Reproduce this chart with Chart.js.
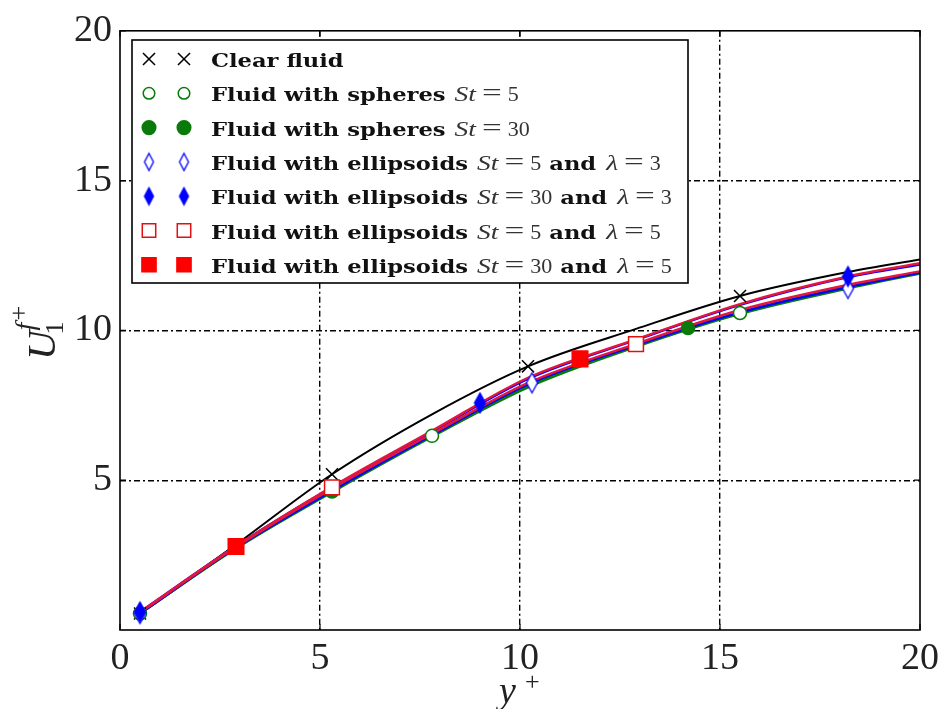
<!DOCTYPE html>
<html>
<head>
<meta charset="utf-8">
<script src="https://cdn.jsdelivr.net/npm/chart.js@4.4.0/dist/chart.umd.min.js"></script>
<style>
  html, body { margin: 0; padding: 0; background: #fff; }
  #wrap { width: 945px; height: 709px; }
</style>
</head>
<body>
<div id="wrap"><canvas id="uplus"></canvas></div>
<script>
// y+ positions where the mean velocity profiles are given
const yPlus = [0.5, 2.9, 5.3, 7.8, 10.2, 12.9, 15.5, 18.2, 20];

// U1f+ profiles
const clearFluid   = [0.55, 2.85, 5.2, 7.2, 8.8, 10.05, 11.15, 11.95, 12.37];
const spheresSt5   = [0.55, 2.72, 4.6, 6.45, 8.1, 9.45, 10.55, 11.4, 11.9];
const spheresSt30  = [0.55, 2.74, 4.63, 6.48, 8.15, 9.5, 10.6, 11.45, 11.93];
const ellSt5Lam3   = [0.55, 2.75, 4.65, 6.5, 8.2, 9.5, 10.6, 11.45, 11.93];
const ellSt30Lam3  = [0.6, 2.8, 4.76, 6.62, 8.38, 9.68, 10.85, 11.78, 12.2];
const ellSt5Lam5   = [0.58, 2.77, 4.72, 6.55, 8.25, 9.55, 10.68, 11.52, 11.97];
const ellSt30Lam5  = [0.6, 2.8, 4.78, 6.65, 8.42, 9.7, 10.88, 11.8, 12.24];

// marker positions (every few samples, like markevery)
const clearMarkX  = [0.5, 5.3, 10.2, 15.5];
const clearMarkY  = [0.55, 5.2, 8.8, 11.15];
const sph5MarkX   = [0.5, 7.8, 15.5];
const sph5MarkY   = [0.55, 6.48, 10.58];
const sph30MarkX  = [5.3, 14.2];
const sph30MarkY  = [4.62, 10.08];
const e5l3MarkX   = [0.5, 10.3, 18.2];
const e5l3MarkY   = [0.55, 8.25, 11.4];
const e30l3MarkX  = [0.5, 9.0, 18.2];
const e30l3MarkY  = [0.6, 7.58, 11.8];
const e5l5MarkX   = [5.3, 12.9];
const e5l5MarkY   = [4.76, 9.54];
const e30l5MarkX  = [2.9, 11.5];
const e30l5MarkY  = [2.79, 9.05];

const xTicks = [0, 5, 10, 15, 20];
const yTicks = [5, 10, 15, 20];

// legend labels: [text, kind] with b = bold words, i = math italic, r = math roman
const legendRows = [
  [["Clear fluid", "b"]],
  [["Fluid with spheres", "b"], ["St", "i"], ["=", "r"], ["5", "r"]],
  [["Fluid with spheres", "b"], ["St", "i"], ["=", "r"], ["30", "r"]],
  [["Fluid with ellipsoids", "b"], ["St", "i"], ["=", "r"], ["5", "r"], ["and", "b"], ["\u03bb", "i"], ["=", "r"], ["3", "r"]],
  [["Fluid with ellipsoids", "b"], ["St", "i"], ["=", "r"], ["30", "r"], ["and", "b"], ["\u03bb", "i"], ["=", "r"], ["3", "r"]],
  [["Fluid with ellipsoids", "b"], ["St", "i"], ["=", "r"], ["5", "r"], ["and", "b"], ["\u03bb", "i"], ["=", "r"], ["5", "r"]],
  [["Fluid with ellipsoids", "b"], ["St", "i"], ["=", "r"], ["30", "r"], ["and", "b"], ["\u03bb", "i"], ["=", "r"], ["5", "r"]]
];

function diamond(w, h, fill, stroke, lw) {
  const c = document.createElement('canvas');
  c.width = w + 2 * lw + 2;
  c.height = h + 2 * lw + 2;
  const g = c.getContext('2d');
  const cx = c.width / 2, cy = c.height / 2;
  g.beginPath();
  g.moveTo(cx, cy - h / 2);
  g.lineTo(cx + w / 2, cy);
  g.lineTo(cx, cy + h / 2);
  g.lineTo(cx - w / 2, cy);
  g.closePath();
  g.fillStyle = fill;
  g.fill();
  g.lineWidth = lw;
  g.strokeStyle = stroke;
  g.stroke();
  return c;
}

const GREEN = '#0a7a0a', BLUE = '#0000ff', RED = '#ff0000', CRIMSON = '#e3173e';

const series = [
  { curve: clearFluid,  mx: clearMarkX, my: clearMarkY, line: '#000', edge: '#000', fill: '#000', style: 'crossRot', r: 8.5, lr: 8.5 },
  { curve: spheresSt5,  mx: sph5MarkX,  my: sph5MarkY,  line: GREEN, edge: GREEN, fill: '#fff', style: 'circle', r: 6.5, lr: 5.8 },
  { curve: spheresSt30, mx: sph30MarkX, my: sph30MarkY, line: GREEN, edge: GREEN, fill: GREEN, style: 'circle', r: 6.5, lr: 6.8 },
  { curve: ellSt5Lam3,  mx: e5l3MarkX,  my: e5l3MarkY,  line: BLUE, edge: BLUE, fill: '#fff', style: diamond(11, 20, '#fff', BLUE, 1.3), leg: diamond(9, 17, '#fff', BLUE, 1.3) },
  { curve: ellSt30Lam3, mx: e30l3MarkX, my: e30l3MarkY, line: BLUE, edge: BLUE, fill: BLUE, style: diamond(11, 20, BLUE, BLUE, 1.3), leg: diamond(9, 17, BLUE, BLUE, 1.3) },
  { curve: ellSt5Lam5,  mx: e5l5MarkX,  my: e5l5MarkY,  line: CRIMSON, edge: '#e01010', fill: '#fff', style: 'rect', r: 10.5, lr: 9.5 },
  { curve: ellSt30Lam5, mx: e30l5MarkX, my: e30l5MarkY, line: CRIMSON, edge: RED, fill: RED, style: 'rect', r: 11, lr: 10 }
];

const datasets = [];
series.forEach((s, i) => {
  datasets.push({
    data: yPlus.map((x, k) => ({ x: x, y: s.curve[k] })),
    showLine: true,
    borderColor: s.line,
    borderWidth: i === 0 ? 2 : 2.4,
    pointRadius: 0,
    cubicInterpolationMode: 'monotone',
    order: 40 - i
  });
});
series.forEach((s, i) => {
  datasets.push({
    data: s.mx.map((x, k) => ({ x: x, y: s.my[k] })),
    showLine: false,
    pointStyle: s.style,
    pointRadius: s.r || 10,
    pointBorderColor: s.edge,
    pointBackgroundColor: s.fill,
    pointBorderWidth: 1.5,
    order: 20 - i
  });
});

// draws one legend word with a small horizontal stretch, returns its width
function seg(ctx, txt, kind, x, y) {
  let font, sx, col = '#333';
  if (kind === 'b') { font = 'bold 19px "DejaVu Serif"'; sx = 1.19; col = '#111'; }
  else if (kind === 'i') { font = 'italic 22px "Liberation Serif"'; sx = 1.25; }
  else if (txt === '=') { font = '26px "Liberation Serif"'; sx = 1.35; }
  else { font = '22px "Liberation Serif"'; sx = 1.0; }
  ctx.font = font;
  ctx.fillStyle = col;
  const w = ctx.measureText(txt).width * sx;
  ctx.save();
  ctx.translate(x, y);
  ctx.scale(sx, 1);
  ctx.fillText(txt, 0, 0);
  ctx.restore();
  return w;
}

function gapBetween(a, b) {
  if (!a) return 0;
  if (a[1] === 'b' || b[1] === 'b') return a[1] === 'b' && b[1] === 'b' ? 6 : (b[0] === 'and' ? 8 : (a[0] === 'and' ? 10 : 9));
  return 6;
}

const frameAndTicks = {
  id: 'frameAndTicks',
  afterDatasetsDraw(chart) {
    const { ctx, chartArea: a, scales } = chart;
    ctx.save();
    ctx.strokeStyle = '#000';
    ctx.lineWidth = 1.6;
    ctx.strokeRect(a.left, a.top, a.right - a.left, a.bottom - a.top);
    ctx.lineWidth = 1.2;
    ctx.beginPath();
    xTicks.forEach(v => {
      const px = scales.x.getPixelForValue(v);
      ctx.moveTo(px, a.bottom); ctx.lineTo(px, a.bottom - 6);
      ctx.moveTo(px, a.top); ctx.lineTo(px, a.top + 6);
    });
    yTicks.forEach(v => {
      const py = scales.y.getPixelForValue(v);
      ctx.moveTo(a.left, py); ctx.lineTo(a.left + 6, py);
      ctx.moveTo(a.right, py); ctx.lineTo(a.right - 6, py);
    });
    ctx.stroke();
    ctx.restore();
  },
  afterDraw(chart) {
    const ctx = chart.ctx;
    ctx.save();
    // axis titles
    ctx.fillStyle = '#222';
    ctx.textBaseline = 'alphabetic';
    ctx.font = 'italic 38px "Liberation Serif"';
    ctx.fillText('y', 499, 703);
    ctx.font = '26px "Liberation Serif"';
    ctx.fillText('+', 525, 690);

    ctx.translate(55, 360);
    ctx.rotate(-Math.PI / 2);
    ctx.font = 'italic 41px "Liberation Serif"';
    ctx.fillText('U', 0, 0);
    const uw = ctx.measureText('U').width;
    ctx.font = '26px "Liberation Serif"';
    ctx.fillText('1', uw - 4, 8);
    ctx.font = 'italic 28px "Liberation Serif"';
    ctx.fillText('f', uw, -21);
    const fw = ctx.measureText('f').width;
    ctx.font = '26px "Liberation Serif"';
    ctx.fillText('+', uw + fw + 2, -28);
    ctx.restore();

    // legend
    ctx.save();
    const bx = 132, by = 40, bw = 556, bh = 243;
    ctx.fillStyle = '#fff';
    ctx.fillRect(bx, by, bw, bh);
    ctx.strokeStyle = '#000';
    ctx.lineWidth = 1.6;
    ctx.strokeRect(bx, by, bw, bh);
    legendRows.forEach((row, i) => {
      const s = series[i];
      const cy = by + 19 + i * 34.3;
      [149, 184].forEach(mx => {
        if (typeof s.style !== 'string') {
          ctx.drawImage(s.leg, mx - s.leg.width / 2, cy - s.leg.height / 2);
          return;
        }
        ctx.lineWidth = 1.5;
        ctx.strokeStyle = s.edge;
        ctx.fillStyle = s.fill;
        ctx.beginPath();
        if (s.style === 'crossRot') {
          const d = s.lr * Math.SQRT1_2;
          ctx.moveTo(mx - d, cy - d); ctx.lineTo(mx + d, cy + d);
          ctx.moveTo(mx + d, cy - d); ctx.lineTo(mx - d, cy + d);
          ctx.stroke();
        } else if (s.style === 'circle') {
          ctx.arc(mx, cy, s.lr, 0, Math.PI * 2);
          ctx.fill(); ctx.stroke();
        } else {
          const d = s.lr * Math.SQRT1_2;
          ctx.rect(mx - d, cy - d, 2 * d, 2 * d);
          ctx.fill(); ctx.stroke();
        }
      });
      let tx = 211, prev = null;
      ctx.textBaseline = 'alphabetic';
      row.forEach(tok => {
        tx += gapBetween(prev, tok);
        tx += seg(ctx, tok[0], tok[1], tx, cy + 8);
        prev = tok;
      });
    });
    ctx.restore();
  }
};

const gridLine = {
  color: ctx => (ctx.tick && (ctx.tick.value === 0 || ctx.tick.value === 20)) ? 'rgba(0,0,0,0)' : '#000',
  lineWidth: 1.4,
  drawTicks: false
};
const tickFont = { family: '"Liberation Serif"', size: 38 };

new Chart(document.getElementById('uplus'), {
  type: 'scatter',
  data: { datasets: datasets },
  options: {
    responsive: true,
    maintainAspectRatio: false,
    animation: false,
    layout: { padding: { top: 27, right: 24, left: 0, bottom: 0 } },
    plugins: { legend: { display: false }, tooltip: { enabled: false } },
    scales: {
      x: {
        type: 'linear', min: 0, max: 20,
        afterBuildTicks: sc => { sc.ticks = xTicks.map(v => ({ value: v })); },
        afterFit: sc => { sc.height = 79; },
        grid: gridLine,
        border: { display: false, dash: [6, 3, 2, 3] },
        ticks: { font: tickFont, color: '#222', padding: 6, maxRotation: 0 }
      },
      y: {
        type: 'linear', min: 0, max: 20,
        afterBuildTicks: sc => { sc.ticks = yTicks.map(v => ({ value: v })); },
        afterFit: sc => { sc.width = 120; },
        grid: gridLine,
        border: { display: false, dash: [6, 3, 2, 3] },
        ticks: { font: tickFont, color: '#222', padding: 8 }
      }
    }
  },
  plugins: [frameAndTicks]
});
</script>
</body>
</html>
